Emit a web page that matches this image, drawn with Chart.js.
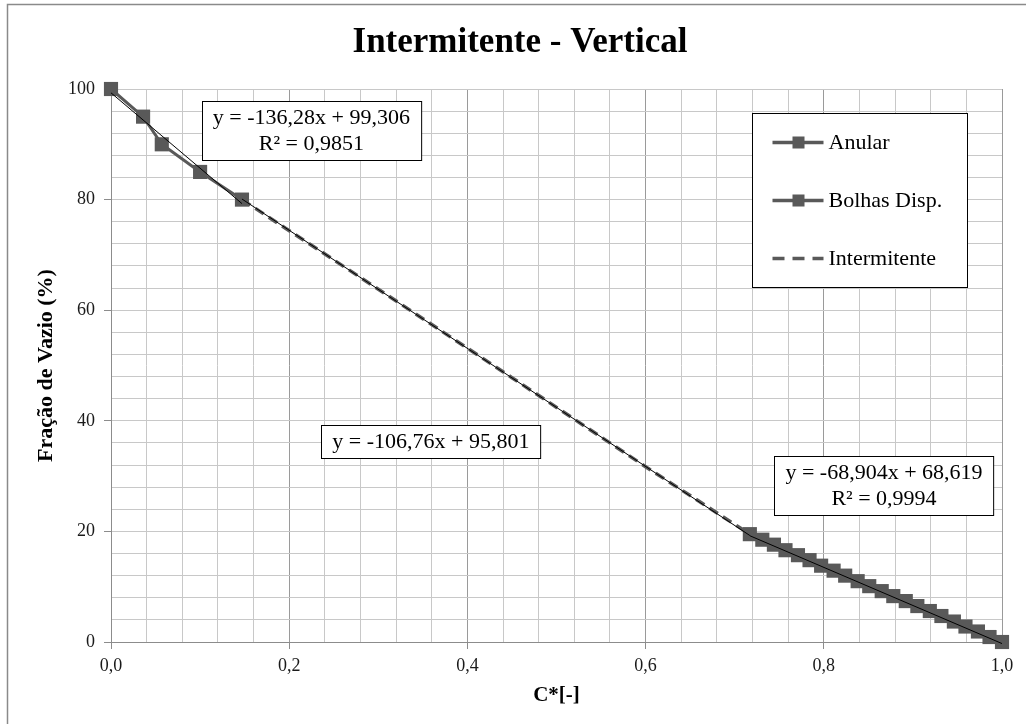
<!DOCTYPE html>
<html>
<head>
<meta charset="utf-8">
<script src="https://cdn.jsdelivr.net/npm/chart.js@4.4.1/dist/chart.umd.min.js"></script>
<style>
  html, body { margin: 0; padding: 0; background: #ffffff; }
  #wrap { width: 1026px; height: 724px; position: relative; }
</style>
</head>
<body>
<div id="wrap"><canvas id="c" width="1026" height="724"></canvas></div>
<script>
// Anular regime points
const anularX = [0.000, 0.036, 0.057, 0.100, 0.147];
const anularY = [100.0, 95.0, 90.0, 85.0, 80.0];

// Bolhas dispersas regime points
const bolhasX = [0.717, 0.731, 0.744, 0.757, 0.771, 0.784, 0.797, 0.811, 0.824, 0.838, 0.851,
                 0.865, 0.878, 0.892, 0.905, 0.919, 0.932, 0.946, 0.959, 0.973, 0.986, 1.000];
const bolhasY = [19.5, 18.5, 17.6, 16.6, 15.7, 14.8, 13.8, 12.9, 12.0, 11.0, 10.1,
                 9.2, 8.3, 7.4, 6.5, 5.6, 4.7, 3.7, 2.8, 1.9, 0.9, 0.0];

// Intermitente regime points
const intermX = [0.147, 0.300, 0.450, 0.600, 0.717];
const intermY = [80.0, 63.8, 47.8, 31.7, 19.5];

// Linear fits shown on the chart: [slope, intercept, xFrom, xTo, R²]
const fitAnular = [-136.28, 99.306, 0.000, 0.147, '0,9851'];
const fitInterm = [-106.76, 95.801, 0.147, 0.717, null];
const fitBolhas = [-68.904, 68.619, 0.717, 1.000, '0,9994'];

// Axis ticks
const xTickLabels = ['0,0', '0,2', '0,4', '0,6', '0,8', '1,0'];
const yTickLabels = ['0', '20', '40', '60', '80', '100'];

const seriesNames = ['Anular', 'Bolhas Disp.', 'Intermitente'];
const chartTitle = 'Intermitente - Vertical';

const pts = (xs, ys) => xs.map((x, i) => ({ x: x, y: ys[i] }));
const fitPts = f => [{ x: f[2], y: f[0] * f[2] + f[1] }, { x: f[3], y: f[0] * f[3] + f[1] }];
const fmt = (v, d) => v.toFixed(d).replace('.', ',');
const eqText = f => {
  const d = String(Math.abs(f[1])).split('.')[1];
  const sd = String(Math.abs(f[0])).split('.')[1];
  return 'y = -' + fmt(Math.abs(f[0]), sd ? sd.length : 0) + 'x + ' + fmt(f[1], d ? d.length : 0);
};

const GREY = '#595959';
const SERIF = '"Liberation Serif", "Times New Roman", serif';

const trendStyle = {
  showLine: true, borderColor: '#000000', borderWidth: 1, pointRadius: 0,
  pointHoverRadius: 0, fill: false, order: 0, clip: false
};

const markerStyle = {
  showLine: true, borderColor: GREY, borderWidth: 3, pointStyle: 'rect', pointRadius: 10,
  pointBackgroundColor: GREY, pointBorderColor: GREY, pointBorderWidth: 0, order: 1, clip: false
};

const isMajor = (v, step) => Math.abs(v / step - Math.round(v / step)) < 1e-6;

// Frame, title, legend and equation boxes
const decor = {
  id: 'decor',
  beforeDraw(chart) {
    const ctx = chart.ctx;
    ctx.save();
    ctx.fillStyle = '#ffffff';
    ctx.fillRect(0, 0, chart.width, chart.height);
    ctx.strokeStyle = '#8a8a8a';
    ctx.lineWidth = 1.5;
    ctx.strokeRect(7.5, 4.5, chart.width + 20, chart.height + 20);
    ctx.restore();
  },
  afterDraw(chart) {
    const ctx = chart.ctx;
    const xs = chart.scales.x, ys = chart.scales.y;
    const area = chart.chartArea;
    ctx.save();
    // title
    ctx.fillStyle = '#000000';
    ctx.font = 'bold 35px ' + SERIF;
    ctx.textAlign = 'center';
    ctx.textBaseline = 'middle';
    ctx.fillText(chartTitle, 520, 43);

    // equation boxes
    const boxes = [
      { f: fitAnular, cx: 0.2249, cy: 92.5 },
      { f: fitInterm, cx: 0.3590, cy: 36.3 },
      { f: fitBolhas, cx: 0.8676, cy: 28.3 }
    ];
    ctx.font = '22px ' + SERIF;
    boxes.forEach(b => {
      const lines = [eqText(b.f)];
      if (b.f[4]) lines.push('R² = ' + b.f[4]);
      const w = Math.max(...lines.map(l => ctx.measureText(l).width)) + 22;
      const h = lines.length * 26 + 7;
      const px = xs.getPixelForValue(b.cx), py = ys.getPixelForValue(b.cy);
      const l = Math.round(px - w / 2) + 0.5, t = Math.round(py - h / 2) + 0.5;
      ctx.fillStyle = '#ffffff';
      ctx.fillRect(l, t, w, h);
      ctx.strokeStyle = '#000000';
      ctx.lineWidth = 1;
      ctx.strokeRect(l, t, w, h);
      ctx.fillStyle = '#000000';
      ctx.textAlign = 'center';
      ctx.textBaseline = 'middle';
      lines.forEach((s, i) => ctx.fillText(s, px, t + 17 + i * 26));
    });

    // legend
    const lx = area.right - 249.5, ly = area.top + 24.5, lw = 215, lh = 174;
    ctx.fillStyle = '#ffffff';
    ctx.fillRect(lx, ly, lw, lh);
    ctx.strokeStyle = '#000000';
    ctx.lineWidth = 1;
    ctx.strokeRect(lx, ly, lw, lh);
    ctx.font = '22px ' + SERIF;
    ctx.textAlign = 'left';
    ctx.textBaseline = 'middle';
    seriesNames.forEach((name, i) => {
      const yy = ly + 29 + i * 58;
      ctx.strokeStyle = GREY;
      ctx.lineWidth = 3.5;
      ctx.setLineDash(i === 2 ? [12, 8] : []);
      ctx.beginPath();
      ctx.moveTo(lx + 20, yy);
      ctx.lineTo(lx + 71, yy);
      ctx.stroke();
      ctx.setLineDash([]);
      if (i < 2) {
        ctx.fillStyle = GREY;
        ctx.fillRect(lx + 40, yy - 6, 12, 12);
      }
      ctx.fillStyle = '#000000';
      ctx.fillText(name, lx + 76, yy + 1);
    });
    ctx.restore();
  }
};

new Chart(document.getElementById('c'), {
  type: 'scatter',
  data: {
    datasets: [
      Object.assign({ label: 'fit ' + seriesNames[0], data: fitPts(fitAnular) }, trendStyle),
      Object.assign({ label: 'fit ' + seriesNames[2], data: fitPts(fitInterm) }, trendStyle),
      Object.assign({ label: 'fit ' + seriesNames[1], data: fitPts(fitBolhas) }, trendStyle),
      Object.assign({ label: seriesNames[0], data: pts(anularX, anularY) }, markerStyle),
      Object.assign({ label: seriesNames[1], data: pts(bolhasX, bolhasY) }, markerStyle),
      {
        label: seriesNames[2], data: pts(intermX, intermY), showLine: true,
        borderColor: GREY, borderWidth: 3.5, borderDash: [10, 6], pointRadius: 0, order: 1
      }
    ]
  },
  options: {
    responsive: false,
    animation: false,
    events: [],
    layout: { padding: { left: 0, right: 24, top: 89, bottom: 0 } },
    plugins: {
      legend: { display: false },
      title: { display: false },
      tooltip: { enabled: false }
    },
    scales: {
      x: {
        type: 'linear', min: 0, max: 1,
        afterFit: s => { s.height = 82; },
        border: { color: '#8c8c8c', width: 1 },
        grid: {
          color: c => (c.tick && isMajor(c.tick.value, 0.2)) ? '#9a9a9a' : '#c8c8c8',
          tickColor: c => (c.tick && isMajor(c.tick.value, 0.2)) ? '#8c8c8c' : 'rgba(0,0,0,0)',
          tickLength: 7, lineWidth: 1
        },
        ticks: {
          stepSize: 0.04, autoSkip: false, maxRotation: 0, padding: 6,
          color: '#1a1a1a', font: { family: SERIF, size: 18 },
          callback: v => isMajor(v, 0.2) ? xTickLabels[Math.round(v / 0.2)] : ''
        },
        title: {
          display: true, text: 'C*[-]', color: '#000000',
          font: { family: SERIF, size: 21, weight: 'bold' },
          padding: { top: 0, bottom: 16 }
        }
      },
      y: {
        type: 'linear', min: 0, max: 100,
        afterFit: s => { s.width = 111; },
        border: { color: '#8c8c8c', width: 1 },
        grid: {
          color: '#c8c8c8',
          tickColor: c => (c.tick && isMajor(c.tick.value, 20)) ? '#8c8c8c' : 'rgba(0,0,0,0)',
          tickLength: 7, lineWidth: 1
        },
        ticks: {
          stepSize: 4, autoSkip: false, padding: 9,
          color: '#1a1a1a', font: { family: SERIF, size: 18 },
          callback: v => isMajor(v, 20) ? yTickLabels[Math.round(v / 20)] : ''
        },
        title: {
          display: true, text: 'Fração de Vazio (%)', color: '#000000',
          font: { family: SERIF, size: 22, weight: 'bold' },
          padding: { top: 33, bottom: 0 }
        }
      }
    }
  },
  plugins: [decor]
});
</script>
</body>
</html>
